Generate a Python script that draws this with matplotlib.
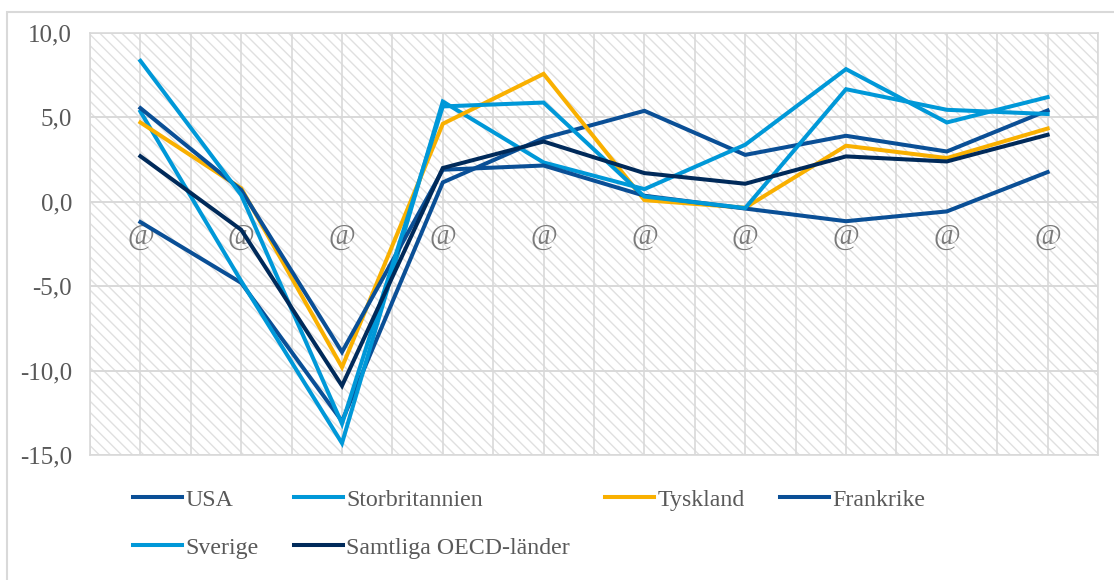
import matplotlib
matplotlib.use("Agg")
import matplotlib.pyplot as plt
from matplotlib.patches import Rectangle
import numpy as np

# ---- data ----
categories = ["@"] * 10
usa = [-1.2, -4.8, -13.0, 1.15, 3.77, 5.39, 2.78, 3.91, 2.98, 5.41]
storbritannien = [5.35, -4.7, -14.3, 5.94, 2.33, 0.75, 3.38, 7.86, 4.7, 6.2]
tyskland = [4.7, 0.8, -9.8, 4.62, 7.58, 0.1, -0.35, 3.32, 2.59, 4.34]
frankrike = [5.55, 0.7, -8.9, 1.9, 2.15, 0.36, -0.4, -1.15, -0.57, 1.76]
sverige = [8.35, 0.4, -13.15, 5.65, 5.88, 0.31, -0.37, 6.67, 5.45, 5.2]
samtliga = [2.7, -1.66, -10.9, 2.0, 3.57, 1.7, 1.07, 2.69, 2.39, 3.97]

series_names = ["USA", "Storbritannien", "Tyskland", "Frankrike", "Sverige",
                "Samtliga OECD-länder"]
series_values = [usa, storbritannien, tyskland, frankrike, sverige, samtliga]
series_colors = ["#0A4F96", "#0098D8", "#F9B000", "#0A4F96", "#0098D8", "#002A5A"]

yticks = [-15, -10, -5, 0, 5, 10]
ytick_labels = ["-15,0", "-10,0", "-5,0", "0,0", "5,0", "10,0"]

# ---- figure ----
plt.rcParams['font.family'] = ['Liberation Serif', 'DejaVu Serif']
plt.rcParams['hatch.linewidth'] = 1.0
W, H = 1114, 580
fig = plt.figure(figsize=(W / 100, H / 100), dpi=100)
fig.patch.set_facecolor("white")

# outer frame
fig.patches.append(Rectangle((7 / W, -0.05), 1.0, (H - 12) / H + 0.05,
                             transform=fig.transFigure, facecolor="none",
                             edgecolor="#D9D9D9", lw=1.5, zorder=0))

ax = fig.add_axes([90 / W, (H - 455) / H, (1098 - 90) / W, (455 - 33) / H])
ax.set_facecolor("white")
ax.add_patch(Rectangle((0, 0), 1, 1, transform=ax.transAxes, facecolor="white",
                       edgecolor="#E0E0E0", hatch="\\\\\\", lw=0, zorder=0))

x = np.arange(len(categories))
ax.set_xlim(-0.5, len(categories) - 0.5)
ax.set_ylim(-15, 10)

for xv in np.arange(-0.5, len(categories), 0.5):
    ax.axvline(xv, color="#D9D9D9", lw=1.2, zorder=1)
for yv in yticks:
    ax.axhline(yv, color="#D9D9D9", lw=1.4, zorder=1)

lines = []
for name, vals, col in zip(series_names, series_values, series_colors):
    ln, = ax.plot(x, vals, color=col, lw=2.9, label=name, zorder=3,
                  solid_joinstyle="miter")
    lines.append(ln)

for s in ax.spines.values():
    s.set_color("#D9D9D9")
    s.set_linewidth(1.2)

ax.set_yticks(yticks)
ax.set_yticklabels(ytick_labels)
ax.tick_params(axis="y", length=0, pad=13, labelsize=18, labelcolor="#595959")
ax.set_xticks([])

for xi, lab in zip(x, categories):
    ax.annotate(lab, (xi, 0), xytext=(0, -25), textcoords="offset points",
                ha="center", va="center", fontsize=21, color="#7A7A7A", zorder=2)

order = [0, 4, 1, 5, 2, 3]
leg = fig.legend([lines[i] for i in order], [series_names[i] for i in order],
                 ncol=4, loc="upper left", bbox_to_anchor=(133 / W, (H - 489) / H),
                 frameon=False, fontsize=17.2, handlelength=2.05, handletextpad=0.15,
                 columnspacing=1.46, labelspacing=1.1, borderpad=0, borderaxespad=0)
for t in leg.get_texts():
    t.set_color("#595959")

fig.savefig("out.png", dpi=100, facecolor="white")
